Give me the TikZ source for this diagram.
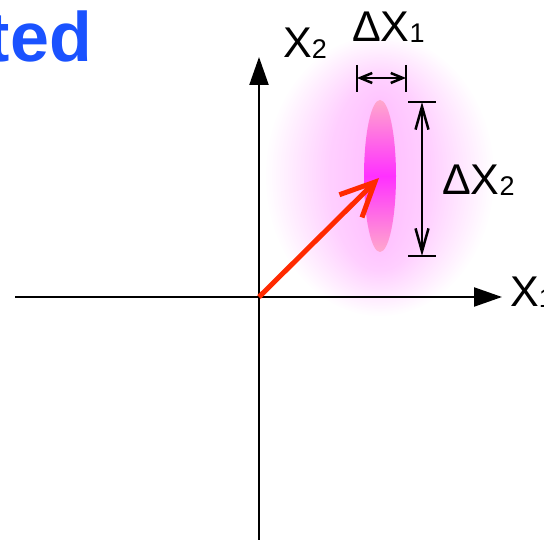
\documentclass[tikz,border=0pt]{standalone}
\usepackage{fontspec}
\setmainfont{Liberation Sans}
\usetikzlibrary{arrows.meta}
\definecolor{titleblue}{HTML}{1A52FF}
\definecolor{vecred}{HTML}{FF2A00}
\definecolor{glowc}{HTML}{FF40FF}
\definecolor{ellA}{HTML}{FF30FF}
\definecolor{ellC}{HTML}{FFA8CC}
\tikzset{
  axis/.style={line width=2.2pt, -{Triangle[length=28pt,width=19pt]}},
  dimbar/.style={line width=2.5pt},
  dimsmall/.style={line width=2.5pt, {Straight Barb[length=12pt,width=10pt]}-{Straight Barb[length=12pt,width=10pt]}},
  dimbig/.style={line width=2.5pt, {Straight Barb[length=23pt,width=13pt]}-{Straight Barb[length=23pt,width=13pt]}},
  lab/.style={inner sep=0pt, anchor=base west, font=\fontsize{43}{43}\selectfont},
  vec/.style={line width=5pt, vecred, -{Straight Barb[length=34pt,width=32pt]}}
}
\newcommand{\sbs}[1]{\raisebox{-1pt}{\fontsize{27}{27}\selectfont #1}}
\begin{document}
\begin{tikzpicture}[x=1pt,y=-1pt]
\useasboundingbox (0,0) rectangle (544,540);
\clip (0,0) rectangle (544,540);
% glow
\foreach \i in {1,...,50}{
  \fill[glowc, opacity=0.0085] (380,176) ellipse [x radius={(14+2*\i)*1pt}, y radius={(70+1.4*\i)*1pt}];
}
% ellipse
\shade[top color=ellC, bottom color=ellC, middle color=ellA] (380,176) ellipse [x radius=16pt, y radius=76pt];
% title fragment
\node[inner sep=0pt, anchor=base east, text=titleblue, font=\fontsize{70}{70}\selectfont\bfseries] (title) at (92,62) {ted};
% axes
\coordinate (O) at (259,297);
\coordinate (ybot) at (259,540);
\coordinate (ytop) at (259,57);
\coordinate (xleft) at (15,297);
\coordinate (xright) at (502,297);
\draw[axis] (ybot) -- (ytop);
\draw[axis] (xleft) -- (xright);
% labels
\node[lab] (x2) at (283,58) {X\sbs{2}};
\node[lab] (x1) at (510,307) {X\sbs{1}};
\node[lab] (dx1) at (352,42) {ΔX\sbs{1}};
\node[lab] (dx2) at (442,195) {ΔX\sbs{2}};
% dimension dx1
\coordinate (a1t) at (357,65); \coordinate (a1b) at (357,92);
\coordinate (b1t) at (406,65); \coordinate (b1b) at (406,92);
\coordinate (a1) at (357,78); \coordinate (b1) at (406,78);
\draw[dimbar] (a1t) -- (a1b);
\draw[dimbar] (b1t) -- (b1b);
\draw[dimsmall] (a1) -- (b1);
% dimension dx2
\coordinate (a2l) at (408,102); \coordinate (a2r) at (436,102);
\coordinate (b2l) at (408,256); \coordinate (b2r) at (436,256);
\coordinate (a2) at (422,102); \coordinate (b2) at (422,256);
\draw[dimbar] (a2l) -- (a2r);
\draw[dimbar] (b2l) -- (b2r);
\draw[dimbig] (a2) -- (b2);
% vector
\coordinate (tip) at (379,178);
\draw[vec] (O) -- (tip);
\end{tikzpicture}
\end{document}
